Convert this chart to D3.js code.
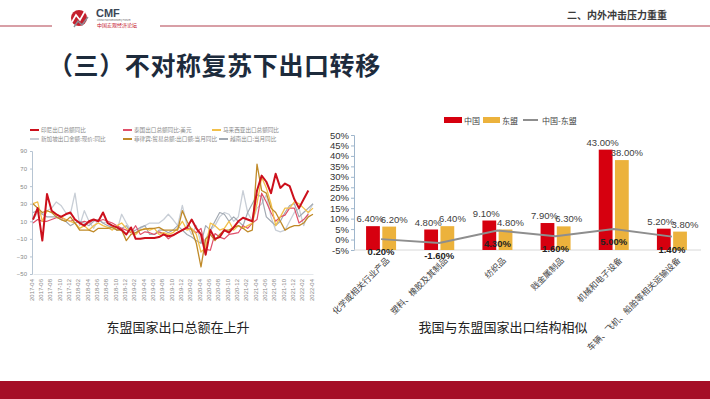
<!DOCTYPE html>
<html>
<head>
<meta charset="utf-8">
<script src="https://cdn.jsdelivr.net/npm/d3@7"></script>
<style>
  body { margin: 0; background: #fff; }
  svg { display: block; font-family: "Noto Sans CJK SC", "Noto Sans", sans-serif; }
</style>
</head>
<body>
<svg id="chart" width="710" height="399"></svg>
<script>
// ---- left chart: ASEAN export growth, monthly 2017-04 .. 2022-04
const months = d3.range(61).map(i => {
  const m = 3 + i
  return (2017 + Math.floor(m / 12)) + '-' + String(m % 12 + 1).padStart(2, '0')
})
const lineYTicks = [90, 70, 50, 30, 10, -10, -30, -50]

const indonesia = [12,25,-12,41,22,18,15,18,20,12,8,5,10,12,10,20,8,5,3,0,-5,3,-10,-10,-9,-9,-9,-8,-5,-7,-6,-3,0,3,12,2,-5,-28,0,-10,-8,0,-3,3,10,14,12,10,45,62,55,42,64,48,53,50,35,25,35,45,null]
const thailand = [8,12,10,10,12,14,14,12,10,12,8,10,8,12,10,12,10,8,5,2,0,-3,5,-5,-2,-3,-5,-2,-4,-10,-6,-3,0,2,1,-3,2,-22,-23,-4,-8,-10,-5,-4,-3,5,2,8,12,42,32,20,10,15,17,25,25,8,12,18,null]
const malaysia = [30,32,10,22,20,18,15,12,10,8,2,5,0,5,8,5,3,0,5,8,2,-2,-5,0,2,0,2,-5,-3,-5,-3,2,10,0,2,-5,-25,-20,8,5,0,2,10,0,5,2,5,8,30,60,48,30,5,15,25,25,32,30,25,20,25]
const singapore = [12,20,18,22,25,32,28,20,18,42,5,22,10,2,12,8,10,5,0,18,8,0,-3,2,5,8,8,8,12,18,12,5,28,5,-5,5,-15,-10,0,5,15,20,18,10,15,45,20,10,25,30,40,15,0,-2,0,10,20,25,5,20,30]
const philippines = [30,25,20,22,20,15,12,10,15,8,0,0,0,-2,2,2,2,3,0,0,-12,-5,-3,0,1,2,2,3,0,0,0,0,22,10,0,-15,-42,-10,-5,-12,-5,0,0,3,5,2,-2,0,75,45,42,25,20,10,0,3,5,5,8,15,18]
const vietnam = [20,22,18,15,15,15,12,10,5,8,10,8,5,10,12,8,5,3,0,2,5,-2,0,3,5,-5,-5,0,0,-3,0,5,0,-5,-8,-12,-15,5,0,10,20,18,10,15,10,5,20,30,40,38,15,10,5,10,20,28,30,15,20,25,30]

const lineSeries = [
  { name: '印尼出口总额同比', values: indonesia, color: '#cc101c', width: 2 },
  { name: '泰国出口总额同比:美元', values: thailand, color: '#e0506a', width: 1.2 },
  { name: '马来西亚出口总额同比', values: malaysia, color: '#f2c04a', width: 1.3 },
  { name: '新加坡出口金额:现价:同比', values: singapore, color: '#c8ced6', width: 1.3 },
  { name: '菲律宾:贸易总额:出口额:当月同比', values: philippines, color: '#c08a28', width: 1.3 },
  { name: '越南出口:当月同比', values: vietnam, color: '#a2a9b2', width: 1.2 }
]

// ---- right chart: export structure China vs ASEAN
const categories = ['化学或相关行业产品', '塑料、橡胶及其制品', '纺织品', '贱金属制品', '机械和电子设备', '车辆、飞机、船舶等相关运输设备']
const china = [6.4, 4.8, 9.1, 7.9, 43.0, 5.2]
const asean = [6.2, 6.4, 4.8, 6.3, 38.0, 3.8]
const diff = [0.2, -1.6, 4.3, 1.6, 5.0, 1.4]
const barYTicks = [50, 45, 40, 35, 30, 25, 20, 15, 10, 5, 0, -5]

const svg = d3.select('#chart')

// ---- slide frame
svg.append('rect').attr('x', 0).attr('y', 0).attr('width', 710).attr('height', 399).attr('fill', '#fff')
svg.append('line').attr('x1', 0).attr('x2', 52).attr('y1', 26).attr('y2', 26)
  .attr('stroke', '#b2404e').attr('stroke-width', 1.2)
svg.append('line').attr('x1', 160).attr('x2', 710).attr('y1', 26).attr('y2', 26)
  .attr('stroke', '#b2404e').attr('stroke-width', 1.2)

// logo
const logo = svg.append('g')
logo.append('circle').attr('cx', 79).attr('cy', 18).attr('r', 8).attr('fill', '#c5202e')
logo.append('path').attr('d', 'M72,22 L76,15 L80,20 L85,11').attr('fill', 'none')
  .attr('stroke', '#fff').attr('stroke-width', 1.6)
logo.append('path').attr('d', 'M74,27 L78,21 L82,25 L88,17').attr('fill', 'none')
  .attr('stroke', '#8a8f98').attr('stroke-width', 1.4)
logo.append('text').attr('x', 96).attr('y', 17).attr('font-size', 11).attr('font-weight', 'bold')
  .attr('fill', '#3a4656').attr('font-family', 'Liberation Sans, Arial').text('CMF')
logo.append('text').attr('x', 97).attr('y', 21).attr('font-size', 2.5).attr('fill', '#666').text('China Macroeconomy Forum')
logo.append('text').attr('x', 97).attr('y', 27).attr('font-size', 5).attr('fill', '#c5202e').text('中国宏观经济论坛')

svg.append('text').attr('x', 667).attr('y', 19).attr('text-anchor', 'end')
  .attr('font-size', 10).attr('font-weight', 'bold').attr('fill', '#3a3a3a').text('二、内外冲击压力重重')

svg.append('text').attr('x', 48).attr('y', 75).attr('font-size', 25).attr('font-weight', 'bold')
  .attr('fill', '#1d2b3c').attr('letter-spacing', 0.6).text('（三）不对称复苏下出口转移')

svg.append('rect').attr('x', 0).attr('y', 381).attr('width', 710).attr('height', 18).attr('fill', '#a50f27')

// ---- left line chart
const x = d3.scalePoint().domain(months).range([33, 313])
const y = d3.scaleLinear().domain([-50, 90]).range([274, 151])

const left = svg.append('g')

const yAxisL = left.append('g').attr('transform', 'translate(32,0)')
  .call(d3.axisLeft(y).tickValues(lineYTicks).tickSize(2).tickPadding(3))
yAxisL.select('.domain').attr('stroke', '#b6c4d2')
yAxisL.selectAll('.tick line').attr('stroke', '#b6c4d2')
yAxisL.selectAll('text').attr('font-size', 6).attr('fill', '#888').attr('font-family', 'Liberation Sans, Arial')

const xTickVals = months.filter((d, i) => i % 2 === 0)
const xAxisL = left.append('g').attr('transform', 'translate(0,274)')
  .call(d3.axisBottom(x).tickValues(xTickVals).tickSize(0).tickPadding(3))
xAxisL.select('.domain').attr('stroke', '#e4e8ec')
xAxisL.selectAll('text')
  .attr('text-anchor', 'end')
  .attr('dx', '-3').attr('dy', '-0.3em')
  .attr('x', 0).attr('y', 0)
  .attr('font-size', 6).attr('fill', '#888').attr('font-family', 'Liberation Sans, Arial')
  .attr('transform', 'translate(2,2) rotate(-90)')

const line = d3.line()
  .defined(d => d != null)
  .x((d, i) => x(months[i]))
  .y(d => y(d))

// draw thin series first, Indonesia on top
const drawOrder = [3, 5, 1, 2, 4, 0]
drawOrder.forEach(k => {
  const s = lineSeries[k]
  left.append('path')
    .datum(s.values)
    .attr('fill', 'none')
    .attr('stroke', s.color)
    .attr('stroke-width', s.width)
    .attr('stroke-linejoin', 'round')
    .attr('d', line)
})

// legend
const legendPos = [[30, 130], [123, 130], [212, 130], [30, 139], [123, 139], [219, 139]]
lineSeries.forEach((s, i) => {
  const g = left.append('g').attr('transform', `translate(${legendPos[i][0]},${legendPos[i][1]})`)
  g.append('line').attr('x1', 0).attr('x2', 9).attr('y1', 0).attr('y2', 0)
    .attr('stroke', s.color).attr('stroke-width', 2)
  g.append('text').attr('x', 11).attr('y', 2).attr('font-size', 5.6).attr('fill', '#8a8a8a').text(s.name)
})

svg.append('text').attr('x', 178).attr('y', 332).attr('text-anchor', 'middle')
  .attr('font-size', 13).attr('fill', '#222').text('东盟国家出口总额在上升')

// ---- right bar chart
const x0 = d3.scaleBand().domain(categories).range([352, 701])
const x1 = d3.scaleBand().domain(['中国', '东盟']).range([-15, 15]).paddingInner(0.15)
const yb = d3.scaleLinear().domain([-5, 50]).range([250, 135])
const fmt = v => v.toFixed(2) + '%'

const right = svg.append('g')

const yAxisR = right.append('g').attr('transform', 'translate(354,0)')
  .call(d3.axisLeft(yb).tickValues(barYTicks).tickSize(3).tickPadding(2).tickFormat(d => d + '%'))
yAxisR.select('.domain').attr('stroke', '#9fb6cc')
yAxisR.selectAll('.tick line').attr('stroke', '#9fb6cc')
yAxisR.selectAll('text').attr('font-size', 9.5).attr('fill', '#333').attr('font-family', 'Liberation Sans, Arial')

right.append('line').attr('x1', 354).attr('x2', 701).attr('y1', yb(-5)).attr('y2', yb(-5))
  .attr('stroke', '#d8d8d8').attr('stroke-width', 1)

const groups = right.selectAll('.cat')
  .data(categories)
  .enter()
  .append('g')
  .attr('class', 'cat')
  .attr('transform', d => `translate(${x0(d) + x0.bandwidth() / 2},0)`)

const barData = (d, i) => [
  { key: '中国', v: china[i], color: '#d6000f' },
  { key: '东盟', v: asean[i], color: '#ecb23c' }
]

groups.selectAll('rect')
  .data(barData)
  .enter()
  .append('rect')
  .attr('x', d => x1(d.key))
  .attr('width', x1.bandwidth())
  .attr('y', d => yb(d.v))
  .attr('height', d => yb(-5) - yb(d.v))
  .attr('fill', d => d.color)

groups.selectAll('.vlab')
  .data(barData)
  .enter()
  .append('text')
  .attr('class', 'vlab')
  .attr('x', d => x1(d.key) + x1.bandwidth() / 2 + (d.key === '中国' ? -3 : 5))
  .attr('y', d => yb(d.v) - 4)
  .attr('text-anchor', 'middle')
  .attr('font-size', 9.5)
  .attr('fill', '#404040')
  .attr('font-family', 'Liberation Sans, Arial')
  .text(d => fmt(d.v))

// difference line
const diffLine = d3.line()
  .x((d, i) => x0(categories[i]) + x0.bandwidth() / 2)
  .y(d => yb(d))
right.append('path')
  .datum(diff)
  .attr('fill', 'none')
  .attr('stroke', '#8e8e8e')
  .attr('stroke-width', 2)
  .attr('d', diffLine)

right.selectAll('.dlab')
  .data(diff)
  .enter()
  .append('text')
  .attr('class', 'dlab')
  .attr('x', (d, i) => x0(categories[i]) + x0.bandwidth() / 2)
  .attr('y', d => yb(d) + 16)
  .attr('text-anchor', 'middle')
  .attr('font-size', 9.5)
  .attr('font-weight', 'bold')
  .attr('fill', '#222')
  .attr('font-family', 'Liberation Sans, Arial')
  .text(d => fmt(d))

// category labels
right.selectAll('.clab')
  .data(categories)
  .enter()
  .append('text')
  .attr('class', 'clab')
  .attr('transform', d => `translate(${x0(d) + x0.bandwidth() / 2 + 9},${261}) rotate(-45)`)
  .attr('text-anchor', 'end')
  .attr('font-size', 8.5)
  .attr('fill', '#444')
  .text(d => d)

// legend
const lg = right.append('g').attr('transform', 'translate(444,120)')
lg.append('rect').attr('x', 0).attr('y', -3).attr('width', 18).attr('height', 6).attr('fill', '#d6000f')
lg.append('text').attr('x', 20).attr('y', 3.5).attr('font-size', 8).attr('fill', '#444').text('中国')
lg.append('rect').attr('x', 39).attr('y', -3).attr('width', 17).attr('height', 6).attr('fill', '#ecb23c')
lg.append('text').attr('x', 58).attr('y', 3.5).attr('font-size', 8).attr('fill', '#444').text('东盟')
lg.append('line').attr('x1', 79).attr('x2', 94).attr('y1', 0).attr('y2', 0).attr('stroke', '#8e8e8e').attr('stroke-width', 2)
lg.append('text').attr('x', 98).attr('y', 3.5).attr('font-size', 8).attr('fill', '#444').text('中国-东盟')

svg.append('text').attr('x', 503).attr('y', 332).attr('text-anchor', 'middle')
  .attr('font-size', 13).attr('fill', '#222').text('我国与东盟国家出口结构相似')
</script>
</body>
</html>
